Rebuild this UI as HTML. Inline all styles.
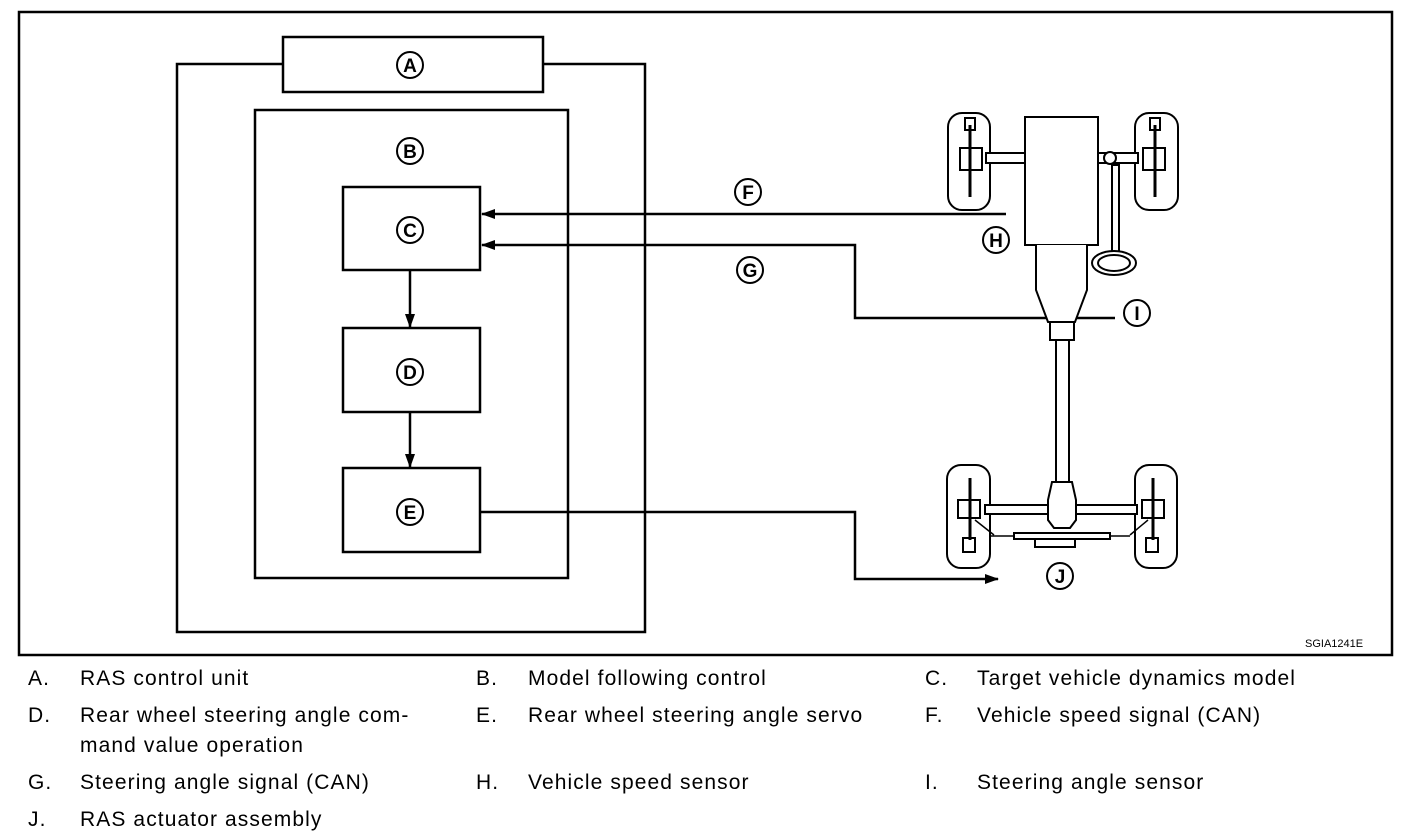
<!DOCTYPE html>
<html><head><style>
html,body{margin:0;padding:0;background:#fff;}
svg{display:block}
.c{font-family:"Liberation Sans",sans-serif;font-weight:bold;font-size:19px;text-anchor:middle}
.l{font-family:"Liberation Sans",sans-serif;font-size:21px;letter-spacing:1.1px;fill:#000}
</style></head><body>
<svg width="1408" height="838" viewBox="0 0 1408 838" xmlns="http://www.w3.org/2000/svg">
<defs><marker id="ar" markerWidth="14" markerHeight="10" refX="13" refY="5" orient="auto" markerUnits="userSpaceOnUse"><path d="M0,0 L14,5 L0,10 z" fill="#000"/></marker></defs>
<rect x="0" y="0" width="1408" height="838" fill="#fff"/>
<rect x="19" y="12" width="1373" height="643" fill="none" stroke="#000" stroke-width="2.5"/>
<g fill="none" stroke="#000" stroke-width="2.5">
<rect x="177" y="64" width="468" height="568"/>
<rect x="283" y="37" width="260" height="55" fill="#fff"/>
<rect x="255" y="110" width="313" height="468"/>
<rect x="343" y="187" width="137" height="83"/>
<rect x="343" y="328" width="137" height="84"/>
<rect x="343" y="468" width="137" height="84"/>
</g>
<g stroke="#000" stroke-width="2.5" fill="none" marker-end="url(#ar)">
<line x1="410" y1="270" x2="410" y2="327"/>
<line x1="410" y1="412" x2="410" y2="467"/>
<line x1="1006" y1="214" x2="482" y2="214"/>
<polyline points="1115,318 855,318 855,245 482,245"/>
<polyline points="480,512 855,512 855,579 998,579"/>
</g>
<g fill="none" stroke="#000" stroke-width="2">
<circle cx="410" cy="65" r="13"/><circle cx="410" cy="151" r="13"/><circle cx="410" cy="230" r="13"/>
<circle cx="410" cy="372" r="13"/><circle cx="410" cy="512" r="13"/><circle cx="748" cy="192" r="13"/>
<circle cx="750" cy="270" r="13"/><circle cx="996" cy="240" r="13"/><circle cx="1137" cy="313" r="13"/>
<circle cx="1060" cy="576" r="13"/>
</g>
<g class="c">
<text x="410" y="72">A</text><text x="410" y="158">B</text><text x="410" y="237">C</text>
<text x="410" y="379">D</text><text x="410" y="519">E</text><text x="748" y="199">F</text>
<text x="750" y="277">G</text><text x="996" y="247">H</text><text x="1137" y="320">I</text>
<text x="1060" y="583">J</text>
</g>
<!-- car -->
<g fill="#fff" stroke="#000" stroke-width="2">
<rect x="948" y="113" width="42" height="97" rx="14"/>
<rect x="1135" y="113" width="43" height="97" rx="14"/>
<rect x="986" y="153" width="40" height="10"/>
<rect x="1098" y="153" width="40" height="10"/>
<rect x="1112" y="165" width="7" height="90"/>
<ellipse cx="1114" cy="263" rx="22" ry="12"/>
<ellipse cx="1114" cy="263" rx="16" ry="8"/>
<circle cx="1110" cy="158" r="6"/>
<rect x="1025" y="117" width="73" height="128"/>
<path d="M1036,245 L1036,290 L1048,322 L1075,322 L1087,290 L1087,245"/>
<rect x="1050" y="322" width="24" height="18"/>
<rect x="1056" y="340" width="13" height="142"/>
<rect x="947" y="465" width="43" height="103" rx="14"/>
<rect x="1135" y="465" width="42" height="103" rx="14"/>
<rect x="985" y="505" width="65" height="9"/>
<rect x="1075" y="505" width="62" height="9"/>
<path d="M1052,482 L1072,482 L1076,500 L1076,520 L1070,528 L1054,528 L1048,520 L1048,500 z"/>
<rect x="1014" y="533" width="96" height="6"/>
<rect x="1035" y="539" width="40" height="8"/>
<rect x="963" y="538" width="12" height="14"/><rect x="1146" y="538" width="12" height="14"/>
<rect x="965" y="118" width="10" height="12"/><rect x="1150" y="118" width="10" height="12"/>
<rect x="960" y="148" width="22" height="22"/><rect x="1143" y="148" width="22" height="22"/>
<rect x="958" y="500" width="22" height="18"/><rect x="1142" y="500" width="22" height="18"/>
</g>
<g stroke="#000" stroke-width="3">
<line x1="970" y1="125" x2="970" y2="197"/><line x1="1155" y1="125" x2="1155" y2="197"/>
<line x1="970" y1="478" x2="970" y2="540"/><line x1="1153" y1="478" x2="1153" y2="540"/>
</g>
<g stroke="#000" stroke-width="1.5">
<line x1="990" y1="536" x2="1014" y2="536"/><line x1="1110" y1="536" x2="1130" y2="536"/>
<line x1="975" y1="520" x2="994" y2="535"/><line x1="1148" y1="520" x2="1130" y2="535"/>
</g>
<text x="1305" y="647" font-family="Liberation Sans,sans-serif" font-size="11">SGIA1241E</text>
<g class="l">
<text x="28" y="685">A.</text><text x="80" y="685">RAS control unit</text>
<text x="476" y="685">B.</text><text x="528" y="685">Model following control</text>
<text x="925" y="685">C.</text><text x="977" y="685">Target vehicle dynamics model</text>
<text x="28" y="722">D.</text><text x="80" y="722">Rear wheel steering angle com-</text>
<text x="80" y="752">mand value operation</text>
<text x="476" y="722">E.</text><text x="528" y="722">Rear wheel steering angle servo</text>
<text x="925" y="722">F.</text><text x="977" y="722">Vehicle speed signal (CAN)</text>
<text x="28" y="789">G.</text><text x="80" y="789">Steering angle signal (CAN)</text>
<text x="476" y="789">H.</text><text x="528" y="789">Vehicle speed sensor</text>
<text x="925" y="789">I.</text><text x="977" y="789">Steering angle sensor</text>
<text x="28" y="826">J.</text><text x="80" y="826">RAS actuator assembly</text>
</g>
</svg>
</body></html>
